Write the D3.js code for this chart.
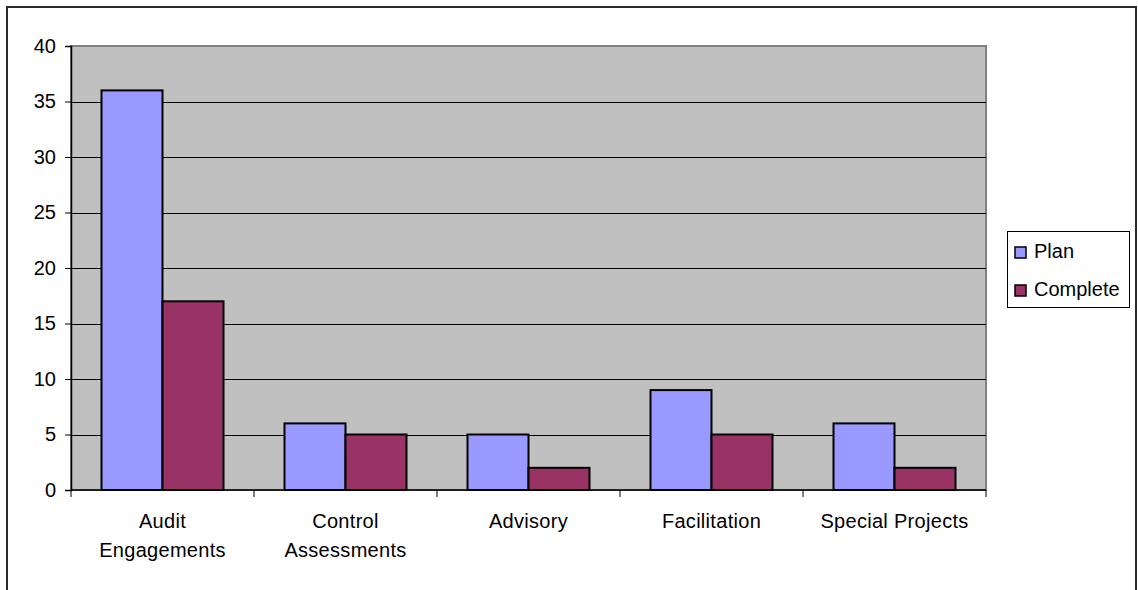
<!DOCTYPE html>
<html><head><meta charset="utf-8">
<script src="https://cdn.jsdelivr.net/npm/d3@7"></script>
<style>body{margin:0;background:#fff}svg{display:block;font-family:"Liberation Sans",Arial,sans-serif}</style>
</head><body>
<script>
const categories = [["Audit","Engagements"],["Control","Assessments"],["Advisory"],["Facilitation"],["Special Projects"]];
const seriesNames = ["Plan","Complete"];
const planValues = [36,6,5,9,6];
const completeValues = [17,5,2,5,2];
const yTicks = [0,5,10,15,20,25,30,35,40];
const colors = ["#9999FF","#993366"];

const W=1138,H=590;
const m={left:71,top:46,right:986,bottom:490};
const svg=d3.select("body").append("svg").attr("width",W).attr("height",H);
svg.append("rect").attr("x",7).attr("y",7).attr("width",1129).attr("height",620)
  .attr("fill","#fff").attr("stroke","#2a2a2a").attr("stroke-width",2);

const x0=d3.scaleBand().domain(d3.range(categories.length)).range([m.left,m.right]).paddingInner(0).paddingOuter(0);
const bw=x0.bandwidth()/3;
const x1=d3.scaleBand().domain(seriesNames).range([bw/2,x0.bandwidth()-bw/2]).padding(0);
const y=d3.scaleLinear().domain([0,40]).range([m.bottom,m.top]);

svg.append("rect").attr("x",m.left).attr("y",m.top).attr("width",m.right-m.left).attr("height",m.bottom-m.top)
  .attr("fill","#C0C0C0").attr("stroke","#808080").attr("stroke-width",2);
svg.append("g").selectAll("line").data(yTicks.filter(d=>d>0&&d<40)).join("line")
  .attr("x1",m.left).attr("x2",m.right).attr("y1",d=>Math.round(y(d))+0.5).attr("y2",d=>Math.round(y(d))+0.5)
  .attr("stroke","#000").attr("stroke-width",1);

const data=[planValues,completeValues];
seriesNames.forEach((s,si)=>{
  svg.append("g").selectAll("rect").data(data[si]).join("rect")
    .attr("x",(d,i)=>x0(i)+x1(s)).attr("width",x1.bandwidth())
    .attr("y",d=>y(d)).attr("height",d=>y(0)-y(d))
    .attr("fill",colors[si]).attr("stroke","#000").attr("stroke-width",2);
});

// y axis
const ya=svg.append("g").attr("transform",`translate(${m.left},0)`)
  .call(d3.axisLeft(y).tickValues(yTicks).tickSize(6).tickPadding(9));
ya.select(".domain").attr("stroke","#000").attr("stroke-width",1.5);
ya.selectAll(".tick line").attr("stroke","#000");
ya.selectAll("text").attr("font-size",20).attr("fill","#000").attr("font-family","Liberation Sans, Arial, sans-serif");

// x axis
const xa=svg.append("g").attr("transform",`translate(0,${m.bottom})`);
xa.append("line").attr("x1",m.left).attr("x2",m.right).attr("y1",0).attr("y2",0).attr("stroke","#000").attr("stroke-width",1.5);
xa.selectAll("line.t").data(d3.range(categories.length+1)).join("line").attr("class","t")
  .attr("x1",i=>x0.step()*i+m.left).attr("x2",i=>x0.step()*i+m.left).attr("y1",0).attr("y2",7).attr("stroke","#000");
const lbl=xa.selectAll("text").data(categories).join("text")
  .attr("x",(d,i)=>x0(i)+x0.bandwidth()/2).attr("y",38)
  .attr("text-anchor","middle").attr("font-size",20).attr("fill","#000").attr("letter-spacing","0.3px");
lbl.selectAll("tspan").data(d=>d).join("tspan")
  .attr("x",function(){return this.parentNode.getAttribute("x");}).attr("dy",(d,i)=>i?29:0).text(d=>d);

// legend
const lg=svg.append("g");
lg.append("rect").attr("x",1007.5).attr("y",231.5).attr("width",122).attr("height",76).attr("fill","#fff").attr("stroke","#000").attr("stroke-width",1);
seriesNames.forEach((s,i)=>{
  const yy=247+i*38;
  lg.append("rect").attr("x",1015).attr("y",yy).attr("width",11).attr("height",11).attr("fill",colors[i]).attr("stroke","#000").attr("stroke-width",1.5);
  lg.append("text").attr("x",1034).attr("y",yy+11).attr("font-size",20).attr("fill","#000").text(s);
});
</script>
</body></html>
